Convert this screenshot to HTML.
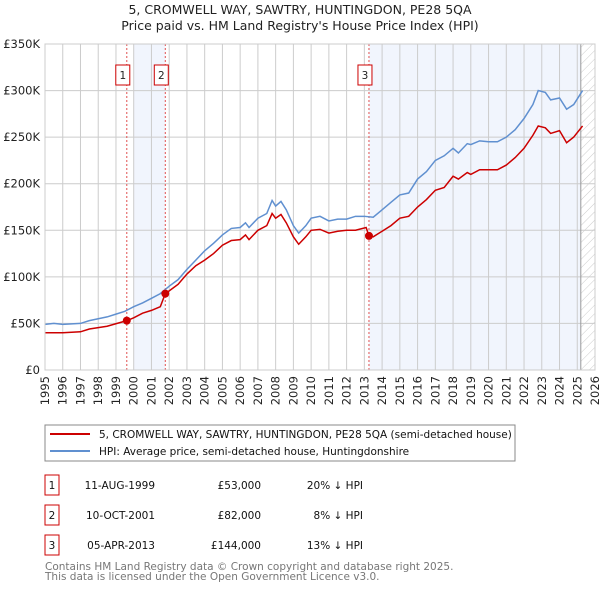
<!DOCTYPE html>
<html><head><meta charset="utf-8"><style>
body{margin:0;background:#fff;font-family:"Liberation Sans","DejaVu Sans",sans-serif;}
svg text{font-family:"DejaVu Sans","Liberation Sans",sans-serif;}
</style></head><body>
<svg id="c" width="600" height="590" xmlns="http://www.w3.org/2000/svg">
<defs><pattern id="hatch" width="6" height="6" patternUnits="userSpaceOnUse" patternTransform="rotate(45)"><line x1="0" y1="0" x2="0" y2="6" stroke="#ccc" stroke-width="1"/></pattern></defs>
<text x="300" y="14" text-anchor="middle" font-size="12.5" fill="#222">5, CROMWELL WAY, SAWTRY, HUNTINGDON, PE28 5QA</text>
<text x="300" y="30" text-anchor="middle" font-size="12.5" fill="#222">Price paid vs. HM Land Registry's House Price Index (HPI)</text>
<g id="plot"></g>
<rect x="45" y="425" width="470" height="36" fill="#fff" stroke="#888"/>
<line x1="50" y1="434" x2="90" y2="434" stroke="#cc0000" stroke-width="2"/>
<text x="99" y="438" font-size="10.5" fill="#111">5, CROMWELL WAY, SAWTRY, HUNTINGDON, PE28 5QA (semi-detached house)</text>
<line x1="50" y1="451" x2="90" y2="451" stroke="#6090d0" stroke-width="2"/>
<text x="99" y="455" font-size="10.5" fill="#111">HPI: Average price, semi-detached house, Huntingdonshire</text>
<g id="table" font-size="10.5" fill="#111"></g>
<text x="45" y="570" font-size="10.5" fill="#777">Contains HM Land Registry data © Crown copyright and database right 2025.</text>
<text x="45" y="580" font-size="10.5" fill="#777">This data is licensed under the Open Government Licence v3.0.</text>
</svg>
<script>
const hpiYears=[1995,1995.5,1996,1997,1997.5,1998,1998.5,1999,1999.5,2000,2000.5,2001,2001.5,2002,2002.5,2003,2003.5,2004,2004.5,2005,2005.5,2006,2006.3,2006.5,2007,2007.5,2007.8,2008,2008.3,2008.6,2009,2009.3,2009.7,2010,2010.5,2011,2011.5,2012,2012.5,2013,2013.5,2014,2014.5,2015,2015.5,2016,2016.5,2017,2017.5,2018,2018.3,2018.8,2019,2019.5,2020,2020.5,2021,2021.5,2022,2022.5,2022.8,2023.2,2023.5,2024,2024.4,2024.8,2025.3];
const hpiValues=[49,50,49,50,53,55,57,60,63,68,72,77,82,90,97,108,118,128,136,145,152,153,158,153,163,168,182,176,181,172,155,147,155,163,165,160,162,162,165,165,164,172,180,188,190,205,213,225,230,238,233,243,242,246,245,245,250,258,270,285,300,298,290,292,280,285,300];
const propYears=[1995,1996,1997,1997.5,1998.5,1999.61,2000,2000.5,2001,2001.5,2001.78,2002,2002.5,2003,2003.5,2004,2004.5,2005,2005.5,2006,2006.3,2006.5,2007,2007.5,2007.8,2008,2008.3,2008.6,2009,2009.3,2009.7,2010,2010.5,2011,2011.5,2012,2012.5,2013.1,2013.26,2013.5,2014,2014.5,2015,2015.5,2016,2016.5,2017,2017.5,2018,2018.3,2018.8,2019,2019.5,2020,2020.5,2021,2021.5,2022,2022.5,2022.8,2023.2,2023.5,2024,2024.4,2024.8,2025.3];
const propValues=[40,40,41,44,47,53,56,61,64,68,82,85,92,103,112,118,125,134,139,140,145,140,150,155,168,163,167,158,143,135,143,150,151,147,149,150,150,153,144,143,149,155,163,165,175,183,193,196,208,205,212,210,215,215,215,220,228,238,252,262,260,254,257,244,250,262];
const saleLabels=["1","2","3"];
const saleYears=[1999.61,2001.78,2013.26];
const saleValues=[53,82,144];
const saleDates=["11-AUG-1999","10-OCT-2001","05-APR-2013"];
const salePrices=["£53,000","£82,000","£144,000"];
const saleDiffs=["20% ↓ HPI","8% ↓ HPI","13% ↓ HPI"];
const yTicks=[0,50,100,150,200,250,300,350];
const yTickLabels=["£0","£50K","£100K","£150K","£200K","£250K","£300K","£350K"];
const xTicks=[];for(let y=1995;y<=2026;y++)xTicks.push(y);

const X0=45,X1=595,Y0=370,Y1=44;
const x=v=>X0+(v-1995)/(2026-1995)*(X1-X0);
const y=v=>Y0-v/350*(Y0-Y1);
const NS="http://www.w3.org/2000/svg";
const g=document.getElementById('plot');
function mk(t,a,p){const e=document.createElementNS(NS,t);for(const k in a)e.setAttribute(k,a[k]);(p||g).appendChild(e);return e;}
let e;
e=mk('rect',{x:X0,y:Y1,width:X1-X0,height:Y0-Y1,fill:'#fff'});

e=mk('rect',{x:x(2000),y:Y1,width:x(saleYears[1])-x(2000),height:Y0-Y1,fill:'#eef3fc',opacity:0.8});

e=mk('rect',{x:x(saleYears[2]),y:Y1,width:x(2025.2)-x(saleYears[2]),height:Y0-Y1,fill:'#eef3fc',opacity:0.8});

e=mk('rect',{x:x(2025.2),y:Y1,width:X1-x(2025.2),height:Y0-Y1,fill:'url(#hatch)'});

xTicks.forEach(t=>{e=mk('line',{x1:x(t),x2:x(t),y1:Y1,y2:Y0,stroke:'#ccc','stroke-width':1});

e=mk('text',{x:0,y:0,transform:`translate(${x(t)+4},${Y0+6}) rotate(-90)`,'text-anchor':'end','font-size':11.5,fill:'#222'});e.textContent=t;
});
yTicks.forEach((t,i)=>{e=mk('line',{x1:X0,x2:X1,y1:y(t),y2:y(t),stroke:'#ccc','stroke-width':1});

e=mk('text',{x:X0-5,y:y(t)+4,'text-anchor':'end','font-size':11.5,fill:'#222'});e.textContent=yTickLabels[i];
});
e=mk('line',{x1:x(2025.2),x2:x(2025.2),y1:Y1,y2:Y0,stroke:'#999'});

saleYears.forEach((s,i)=>{e=mk('line',{x1:x(s),x2:x(s),y1:Y1,y2:Y0,stroke:'#e05050','stroke-dasharray':'2,2','stroke-width':1});

e=mk('rect',{x:x(s)-11,y:65,width:14,height:20,fill:'#fff',stroke:'#cc0000'});

e=mk('text',{x:x(s)-4,y:79,'text-anchor':'middle','font-size':10.5,fill:'#222'});e.textContent=saleLabels[i];
});
e=mk('polyline',{points:hpiYears.map((t,i)=>x(t)+','+y(hpiValues[i])).join(' '),fill:'none',stroke:'#6090d0','stroke-width':1.5});

e=mk('polyline',{points:propYears.map((t,i)=>x(t)+','+y(propValues[i])).join(' '),fill:'none',stroke:'#cc0000','stroke-width':1.5});

saleYears.forEach((s,i)=>{e=mk('circle',{cx:x(s),cy:y(saleValues[i]),r:4,fill:'#cc0000'});
});
e=mk('rect',{x:X0,y:Y1,width:X1-X0,height:Y0-Y1,fill:'none',stroke:'#ccc'});

const tb=document.getElementById('table');
saleLabels.forEach((l,i)=>{const ty=475+i*30;
e=mk('rect',{x:45,y:ty,width:14,height:20,fill:'#fff',stroke:'#cc0000'},tb);

e=mk('text',{x:52,y:ty+14,'text-anchor':'middle'},tb);e.textContent=l;

e=mk('text',{x:155,y:ty+14,'text-anchor':'end'},tb);e.textContent=saleDates[i];

e=mk('text',{x:261,y:ty+14,'text-anchor':'end'},tb);e.textContent=salePrices[i];

e=mk('text',{x:363,y:ty+14,'text-anchor':'end'},tb);e.textContent=saleDiffs[i];
});
</script>
</body></html>
